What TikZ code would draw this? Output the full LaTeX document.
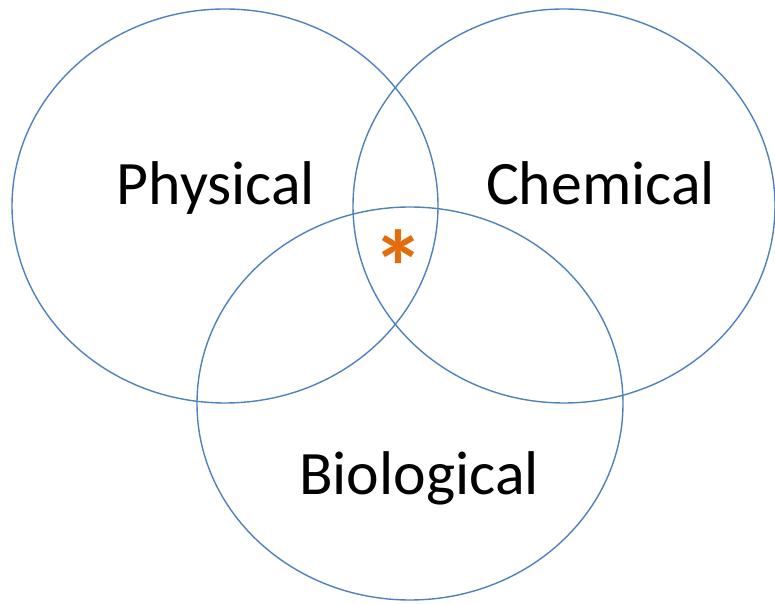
\documentclass[tikz,border=0pt]{standalone}
\usepackage{fontspec}
\setmainfont{Carlito}
\usetikzlibrary{shapes.geometric}
\definecolor{setblue}{HTML}{4F81BD}
\definecolor{markorange}{HTML}{E46C0A}
\begin{document}
\begin{tikzpicture}[x=1bp,y=1bp,line join=bevel]
\tikzset{set/.style={draw=setblue,line width=1.4bp,ellipse,inner sep=0pt},
  label/.style={anchor=base,inner sep=0pt,font=\fontsize{62}{70}\selectfont}}
\useasboundingbox (0bp,0bp) rectangle (775bp,604bp);
%%
\node (set_0) at (225.0bp,398.0bp) [set,minimum width=426bp,minimum height=394bp] {};
  \node (set_1) at (564.0bp,398.0bp) [set,minimum width=422bp,minimum height=394bp] {};
  \node (set_2) at (410.0bp,200.5bp) [set,minimum width=426bp,minimum height=393bp] {};
  \node (label_0) at (216.0bp,399.0bp) [label] {Physical};
  \node (label_1) at (600.5bp,399.0bp) [label] {Chemical};
  \node (label_2) at (419.0bp,109.0bp) [label] {Biological};
  \node (mark) at (398.5bp,337.0bp) [text=markorange,inner sep=0pt,font=\bfseries\fontsize{105}{110}\selectfont] {*};
%
\end{tikzpicture}
\end{document}
